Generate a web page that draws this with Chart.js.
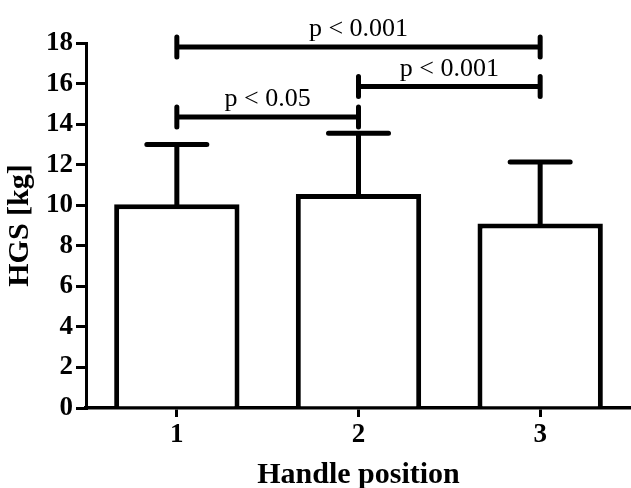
<!DOCTYPE html>
<html>
<head>
<meta charset="utf-8">
<script src="https://cdn.jsdelivr.net/npm/chart.js@4"></script>
<style>
  html, body { margin: 0; padding: 0; background: #fff; }
  #wrap { width: 631px; height: 488px; position: relative; }
</style>
</head>
<body>
<div id="wrap"><canvas id="hgsChart"></canvas></div>
<script>
// handle positions and grip strength (mean, upper SD)
const positions = ['1', '2', '3'];
const hgsMean = [10.05, 10.55, 9.1];
const hgsSD = [2.95, 3.0, 3.03];
const yTicks = [0, 2, 4, 6, 8, 10, 12, 14, 16, 18];

// significance brackets: from/to category index, height in kg, label
const bracketFrom = [0, 1, 0];
const bracketTo = [2, 2, 1];
const bracketY = [17.8, 15.85, 14.35];
const bracketText = ['p < 0.001', 'p < 0.001', 'p < 0.05'];

const serif = '"Liberation Serif", "Times New Roman", serif';

const errorBarsPlugin = {
    id: 'errorBars',
    afterDatasetsDraw(chart) {
        const ctx = chart.ctx;
        const xs = chart.scales.x, ys = chart.scales.y;
        ctx.save();
        ctx.strokeStyle = '#000';
        ctx.lineWidth = 5;
        ctx.lineCap = 'round';
        hgsMean.forEach((m, i) => {
            const x = xs.getPixelForValue(i);
            const yBar = ys.getPixelForValue(m);
            const yTop = ys.getPixelForValue(m + hgsSD[i]);
            ctx.beginPath();
            ctx.moveTo(x, yBar + 2);
            ctx.lineTo(x, yTop);
            ctx.moveTo(x - 30, yTop);
            ctx.lineTo(x + 30, yTop);
            ctx.stroke();
        });

        // brackets
        bracketY.forEach((v, i) => {
            const x1 = xs.getPixelForValue(bracketFrom[i]);
            const x2 = xs.getPixelForValue(bracketTo[i]);
            const y = ys.getPixelForValue(v);
            ctx.beginPath();
            ctx.moveTo(x1, y);
            ctx.lineTo(x2, y);
            ctx.moveTo(x1, y - 10);
            ctx.lineTo(x1, y + 10);
            ctx.moveTo(x2, y - 10);
            ctx.lineTo(x2, y + 10);
            ctx.stroke();
            ctx.fillStyle = '#000';
            ctx.font = '26px ' + serif;
            ctx.textAlign = 'center';
            ctx.textBaseline = 'alphabetic';
            ctx.fillText(bracketText[i], (x1 + x2) / 2, y - 11);
        });
        ctx.restore();
    }
};

new Chart(document.getElementById('hgsChart'), {
    type: 'bar',
    data: {
        labels: positions,
        datasets: [{
            data: hgsMean,
            backgroundColor: '#fff',
            borderColor: '#000',
            borderWidth: 5,
            categoryPercentage: 1,
            barPercentage: 0.69
        }]
    },
    options: {
        responsive: true,
        maintainAspectRatio: false,
        animation: false,
        devicePixelRatio: 1,
        layout: { padding: { top: 43, left: 2, right: -3, bottom: -4 } },
        plugins: { legend: { display: false }, tooltip: { enabled: false } },
        scales: {
            x: {
                afterFit: s => { s.height = 84; },
                grid: { offset: false, drawOnChartArea: false, color: '#000', lineWidth: 3, tickLength: 9, tickWidth: 3 },
                border: { display: true, color: '#000', width: 3.5 },
                ticks: { color: '#000', padding: 2, font: { family: serif, size: 27, weight: 'bold' } },
                title: { display: true, text: 'Handle position', color: '#000', padding: { top: 4, bottom: -1 }, font: { family: serif, size: 30, weight: 'bold' } }
            },
            y: {
                min: 0,
                max: 18,
                afterFit: s => { s.width = 84; },
                afterBuildTicks: s => { s.ticks = yTicks.map(v => ({ value: v })); },
                grid: { drawOnChartArea: false, color: '#000', lineWidth: 3, tickLength: 10, tickWidth: 3 },
                border: { display: true, color: '#000', width: 3 },
                ticks: { color: '#000', padding: 3, font: { family: serif, size: 27, weight: 'bold' } },
                title: { display: true, text: 'HGS [kg]', color: '#000', padding: { top: 0, bottom: 4 }, font: { family: serif, size: 30, weight: 'bold' } }
            }
        }
    },
    plugins: [errorBarsPlugin]
});
</script>
</body>
</html>
